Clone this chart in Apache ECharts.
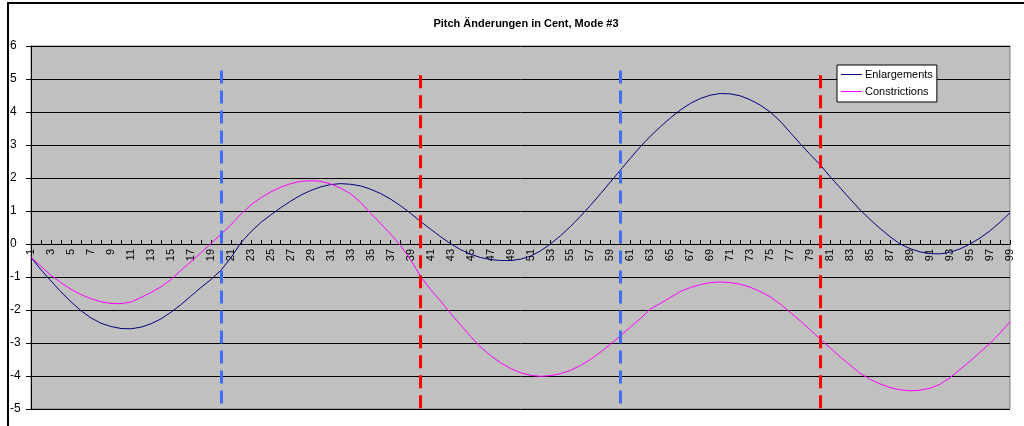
<!DOCTYPE html>
<html>
<head>
<meta charset="utf-8">
<script src="https://cdn.jsdelivr.net/npm/echarts@6/dist/echarts.min.js"></script>
<style>
html,body{margin:0;padding:0;background:#fff;}
#chart{width:1024px;height:426px;}
</style>
</head>
<body>
<div id="chart"></div>
<script>
var titleText = 'Pitch Änderungen in Cent, Mode #3';
var categories = ['1','2','3','4','5','6','7','8','9','10','11','12','13','14','15','16','17','18','19','20',
'21','22','23','24','25','26','27','28','29','30','31','32','33','34','35','36','37','38','39','40',
'41','42','43','44','45','46','47','48','49','50','51','52','53','54','55','56','57','58','59','60',
'61','62','63','64','65','66','67','68','69','70','71','72','73','74','75','76','77','78','79','80',
'81','82','83','84','85','86','87','88','89','90','91','92','93','94','95','96','97','98','99'];

var enlargements = [
-0.40,-0.78,-1.12,-1.45,-1.75,-2.02,-2.24,-2.40,-2.50,-2.56,
-2.57,-2.52,-2.42,-2.27,-2.07,-1.84,-1.58,-1.32,-1.08,-0.80,
-0.42,0.03,0.37,0.65,0.88,1.10,1.30,1.48,1.62,1.73,
1.80,1.83,1.81,1.76,1.66,1.53,1.36,1.16,0.93,0.68,
0.45,0.22,0.01,-0.17,-0.31,-0.41,-0.47,-0.50,-0.50,-0.46,
-0.37,-0.21,0.00,0.25,0.53,0.84,1.17,1.52,1.88,2.24,
2.60,2.95,3.27,3.55,3.82,4.06,4.26,4.41,4.51,4.56,
4.55,4.49,4.37,4.21,4.00,3.72,3.38,3.04,2.71,2.40,
2.04,1.70,1.36,1.03,0.74,0.47,0.22,0.00,-0.14,-0.24,
-0.29,-0.30,-0.25,-0.15,0.00,0.18,0.40,0.66,0.94];

var constrictions = [
-0.40,-0.68,-0.95,-1.17,-1.37,-1.53,-1.66,-1.75,-1.80,-1.81,
-1.76,-1.62,-1.47,-1.30,-1.08,-0.80,-0.54,-0.27,0.01,0.29,
0.58,0.90,1.18,1.40,1.58,1.72,1.83,1.90,1.92,1.90,
1.82,1.69,1.52,1.26,0.93,0.62,0.30,-0.05,-0.48,-0.98,
-1.38,-1.73,-2.10,-2.45,-2.80,-3.12,-3.38,-3.60,-3.77,-3.90,
-3.98,-4.01,-3.99,-3.93,-3.83,-3.68,-3.50,-3.28,-3.04,-2.78,
-2.52,-2.26,-1.97,-1.80,-1.62,-1.44,-1.32,-1.23,-1.17,-1.15,
-1.17,-1.22,-1.31,-1.44,-1.60,-1.82,-2.07,-2.33,-2.60,-2.88,
-3.15,-3.42,-3.67,-3.92,-4.10,-4.24,-4.35,-4.42,-4.45,-4.43,
-4.37,-4.25,-4.05,-3.80,-3.55,-3.28,-3.01,-2.70,-2.36];

var dividerCategories = ['20','40','60','80'];
var dividerTops = [5.26, 5.11, 5.26, 5.11];
var dividerBottom = -5;
var dividerColors = ['#3f6df5','#ff0000','#3f6df5','#ff0000'];

var yMin = -5, yMax = 6, yStep = 1;

var FONT = "'Liberation Sans', Arial, sans-serif";

var GRID_TOP = 46, GRID_BOTTOM = 17, H = 426;
var plotH = H - GRID_TOP - GRID_BOTTOM;
// distance from bottom edge of plot to the zero line
var zeroOffset = plotH * (0 - yMin) / (yMax - yMin);

var markData = dividerCategories.map(function(c, i){
  return [
    {coord:[c, dividerTops[i]], lineStyle:{color:dividerColors[i], type:[13,7], width:3}},
    {coord:[c, dividerBottom]}
  ];
});

var chart = echarts.init(document.getElementById('chart'), null, {renderer:'canvas'});
chart.setOption({
  animation:false,
  backgroundColor:'#ffffff',
  title:{
    text:titleText, left:521, top:13, textAlign:'center',
    textStyle:{fontFamily:FONT, fontSize:11, fontWeight:'bold', color:'#000'}
  },
  graphic:[{
    type:'rect', z:-1, silent:true,
    shape:{x:8, y:3, width:1030, height:440},
    style:{fill:'none', stroke:'#000', lineWidth:2}
  }],
  legend:{
    orient:'vertical', left:837, top:65,
    backgroundColor:'#ffffff', borderColor:'#000', borderWidth:1,
    padding:[4,4,5,4], itemGap:6, itemWidth:21, itemHeight:1,
    icon:'rect',
    textStyle:{fontFamily:FONT, fontSize:11, color:'#000', padding:[0,0,0,-2]},
    data:['Enlargements','Constrictions']
  },
  grid:{left:31, right:14, top:GRID_TOP, bottom:GRID_BOTTOM, show:true, backgroundColor:'#c0c0c0', borderColor:'#808080', borderWidth:1},
  xAxis:{
    type:'category', data:categories, boundaryGap:false,
    position:'bottom', offset:-zeroOffset,
    axisLine:{onZero:false, lineStyle:{color:'#000', width:1}},
    axisTick:{interval:0, length:4, inside:true, lineStyle:{color:'#000'}},
    axisLabel:{interval:1, rotate:90, margin:5, fontFamily:FONT, fontSize:11, color:'#000'},
    splitLine:{show:false}
  },
  yAxis:{
    type:'value', min:yMin, max:yMax, interval:yStep,
    axisLine:{show:true, lineStyle:{color:'#000', width:1}},
    axisTick:{show:true, length:5, lineStyle:{color:'#000'}},
    axisLabel:{margin:21, align:'left', fontFamily:FONT, fontSize:12, color:'#000'},
    splitLine:{show:true, lineStyle:{color:'#000', width:1}}
  },
  series:[
    {name:'Enlargements', type:'line', data:enlargements, showSymbol:false, symbol:'none',
     lineStyle:{color:'#000080', width:1}, itemStyle:{color:'#000080'}, z:3,
     markLine:{silent:true, symbol:['none','none'], label:{show:false}, data:markData}},
    {name:'Constrictions', type:'line', data:constrictions, showSymbol:false, symbol:'none',
     lineStyle:{color:'#ff00ff', width:1}, itemStyle:{color:'#ff00ff'}, z:3}
  ]
});
</script>
</body>
</html>
